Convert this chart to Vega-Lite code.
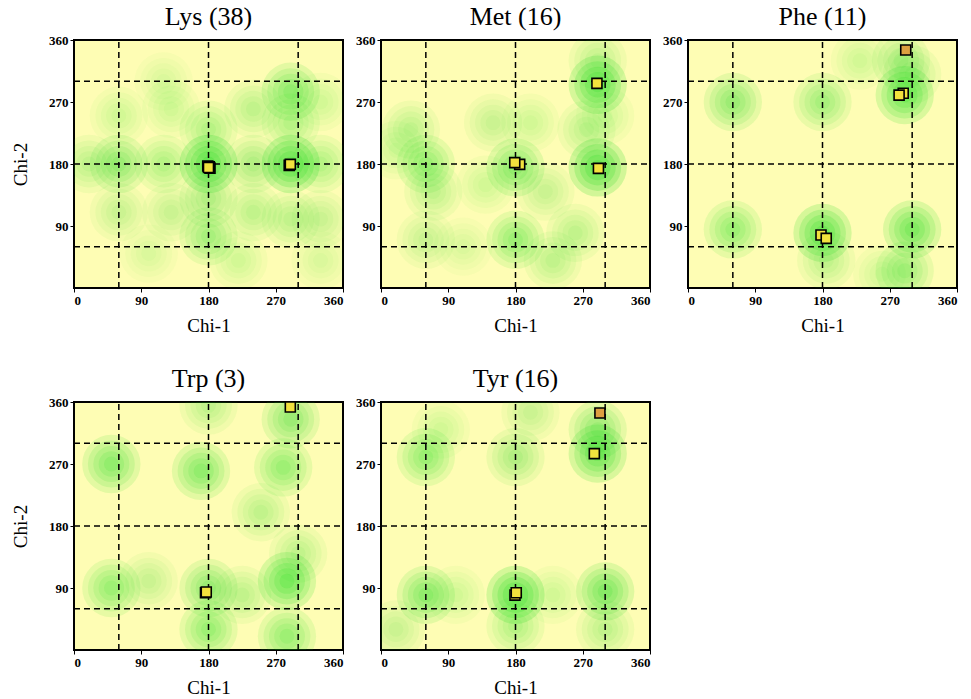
{
  "$schema": "https://vega.github.io/schema/vega-lite/v6.json",
  "autosize": {"type": "pad"},
  "padding": {"left": 10, "top": 3, "right": 5, "bottom": 5},
  "background": "white",
  "datasets": {
    "grid": [{"chi1": 60, "chi2": 60}, {"chi1": 180, "chi2": 180}, {"chi1": 300, "chi2": 300}],
    "blobs": [
      {"res": "Lys", "chi1": 180, "chi2": 180, "density": 1.0},
      {"res": "Lys", "chi1": 290, "chi2": 180, "density": 1.0},
      {"res": "Lys", "chi1": 60, "chi2": 180, "density": 0.55},
      {"res": "Lys", "chi1": 290, "chi2": 285, "density": 0.6},
      {"res": "Lys", "chi1": 290, "chi2": 240, "density": 0.35},
      {"res": "Lys", "chi1": 180, "chi2": 75, "density": 0.45},
      {"res": "Lys", "chi1": 180, "chi2": 130, "density": 0.4},
      {"res": "Lys", "chi1": 180, "chi2": 230, "density": 0.35},
      {"res": "Lys", "chi1": 240, "chi2": 180, "density": 0.4},
      {"res": "Lys", "chi1": 120, "chi2": 180, "density": 0.35},
      {"res": "Lys", "chi1": 240, "chi2": 110, "density": 0.3},
      {"res": "Lys", "chi1": 130, "chi2": 110, "density": 0.25},
      {"res": "Lys", "chi1": 240, "chi2": 260, "density": 0.3},
      {"res": "Lys", "chi1": 130, "chi2": 260, "density": 0.2},
      {"res": "Lys", "chi1": 60, "chi2": 250, "density": 0.2},
      {"res": "Lys", "chi1": 60, "chi2": 110, "density": 0.25},
      {"res": "Lys", "chi1": 330, "chi2": 180, "density": 0.35},
      {"res": "Lys", "chi1": 330, "chi2": 100, "density": 0.25},
      {"res": "Lys", "chi1": 330, "chi2": 270, "density": 0.2},
      {"res": "Lys", "chi1": 20, "chi2": 180, "density": 0.3},
      {"res": "Lys", "chi1": 290, "chi2": 100, "density": 0.3},
      {"res": "Lys", "chi1": 220, "chi2": 40, "density": 0.2},
      {"res": "Lys", "chi1": 100, "chi2": 50, "density": 0.15},
      {"res": "Lys", "chi1": 120, "chi2": 300, "density": 0.15},
      {"res": "Lys", "chi1": 330, "chi2": 40, "density": 0.15},
      {"res": "Met", "chi1": 290, "chi2": 295, "density": 0.9},
      {"res": "Met", "chi1": 290, "chi2": 175, "density": 1.0},
      {"res": "Met", "chi1": 180, "chi2": 175, "density": 0.6},
      {"res": "Met", "chi1": 60, "chi2": 180, "density": 0.5},
      {"res": "Met", "chi1": 40, "chi2": 230, "density": 0.3},
      {"res": "Met", "chi1": 70, "chi2": 140, "density": 0.3},
      {"res": "Met", "chi1": 180, "chi2": 70, "density": 0.5},
      {"res": "Met", "chi1": 230, "chi2": 40, "density": 0.3},
      {"res": "Met", "chi1": 260, "chi2": 80, "density": 0.3},
      {"res": "Met", "chi1": 150, "chi2": 240, "density": 0.25},
      {"res": "Met", "chi1": 200, "chi2": 240, "density": 0.2},
      {"res": "Met", "chi1": 275, "chi2": 230, "density": 0.3},
      {"res": "Met", "chi1": 300, "chi2": 250, "density": 0.2},
      {"res": "Met", "chi1": 60, "chi2": 70, "density": 0.25},
      {"res": "Met", "chi1": 20, "chi2": 200, "density": 0.2},
      {"res": "Met", "chi1": 290, "chi2": 330, "density": 0.3},
      {"res": "Met", "chi1": 220, "chi2": 140, "density": 0.25},
      {"res": "Met", "chi1": 140, "chi2": 150, "density": 0.2},
      {"res": "Met", "chi1": 110, "chi2": 60, "density": 0.15},
      {"res": "Phe", "chi1": 60, "chi2": 270, "density": 0.55},
      {"res": "Phe", "chi1": 180, "chi2": 270, "density": 0.45},
      {"res": "Phe", "chi1": 290, "chi2": 280, "density": 0.8},
      {"res": "Phe", "chi1": 285, "chi2": 330, "density": 0.4},
      {"res": "Phe", "chi1": 300, "chi2": 310, "density": 0.3},
      {"res": "Phe", "chi1": 60, "chi2": 85, "density": 0.5},
      {"res": "Phe", "chi1": 180, "chi2": 80, "density": 0.9},
      {"res": "Phe", "chi1": 300, "chi2": 85, "density": 0.75},
      {"res": "Phe", "chi1": 290, "chi2": 25, "density": 0.45},
      {"res": "Phe", "chi1": 185, "chi2": 40, "density": 0.3},
      {"res": "Phe", "chi1": 230, "chi2": 330, "density": 0.2},
      {"res": "Phe", "chi1": 260, "chi2": 20, "density": 0.2},
      {"res": "Trp", "chi1": 50, "chi2": 270, "density": 0.6},
      {"res": "Trp", "chi1": 170, "chi2": 260, "density": 0.6},
      {"res": "Trp", "chi1": 280, "chi2": 265, "density": 0.5},
      {"res": "Trp", "chi1": 250, "chi2": 200, "density": 0.3},
      {"res": "Trp", "chi1": 290, "chi2": 335, "density": 0.55},
      {"res": "Trp", "chi1": 180, "chi2": 355, "density": 0.3},
      {"res": "Trp", "chi1": 50, "chi2": 90, "density": 0.5},
      {"res": "Trp", "chi1": 100, "chi2": 100, "density": 0.25},
      {"res": "Trp", "chi1": 180, "chi2": 90, "density": 0.55},
      {"res": "Trp", "chi1": 225, "chi2": 80, "density": 0.3},
      {"res": "Trp", "chi1": 285, "chi2": 100, "density": 0.8},
      {"res": "Trp", "chi1": 300, "chi2": 140, "density": 0.3},
      {"res": "Trp", "chi1": 180, "chi2": 30, "density": 0.5},
      {"res": "Trp", "chi1": 285, "chi2": 20, "density": 0.5},
      {"res": "Tyr", "chi1": 60, "chi2": 280, "density": 0.5},
      {"res": "Tyr", "chi1": 180, "chi2": 280, "density": 0.4},
      {"res": "Tyr", "chi1": 290, "chi2": 285, "density": 0.85},
      {"res": "Tyr", "chi1": 290, "chi2": 320, "density": 0.55},
      {"res": "Tyr", "chi1": 200, "chi2": 345, "density": 0.25},
      {"res": "Tyr", "chi1": 60, "chi2": 80, "density": 0.6},
      {"res": "Tyr", "chi1": 180, "chi2": 80, "density": 0.95},
      {"res": "Tyr", "chi1": 300, "chi2": 85, "density": 0.7},
      {"res": "Tyr", "chi1": 180, "chi2": 35, "density": 0.35},
      {"res": "Tyr", "chi1": 20, "chi2": 30, "density": 0.25},
      {"res": "Tyr", "chi1": 300, "chi2": 30, "density": 0.3},
      {"res": "Tyr", "chi1": 100, "chi2": 80, "density": 0.2},
      {"res": "Tyr", "chi1": 230, "chi2": 80, "density": 0.2},
      {"res": "Tyr", "chi1": 80, "chi2": 320, "density": 0.2}
    ],
    "points": [
      {"res": "Lys", "chi1": 179, "chi2": 177, "flag": "normal"},
      {"res": "Lys", "chi1": 182, "chi2": 174, "flag": "normal"},
      {"res": "Lys", "chi1": 181, "chi2": 176, "flag": "normal"},
      {"res": "Lys", "chi1": 180, "chi2": 175, "flag": "normal"},
      {"res": "Lys", "chi1": 288, "chi2": 178, "flag": "normal"},
      {"res": "Lys", "chi1": 289.5, "chi2": 179.5, "flag": "normal"},
      {"res": "Met", "chi1": 289, "chi2": 297, "flag": "normal"},
      {"res": "Met", "chi1": 185.6, "chi2": 179.5, "flag": "normal"},
      {"res": "Met", "chi1": 179, "chi2": 182, "flag": "normal"},
      {"res": "Met", "chi1": 291, "chi2": 173.7, "flag": "normal"},
      {"res": "Phe", "chi1": 291.4, "chi2": 345.5, "flag": "unusual"},
      {"res": "Phe", "chi1": 288, "chi2": 282.6, "flag": "normal"},
      {"res": "Phe", "chi1": 282.5, "chi2": 280, "flag": "normal"},
      {"res": "Phe", "chi1": 178, "chi2": 77, "flag": "normal"},
      {"res": "Phe", "chi1": 185, "chi2": 72, "flag": "normal"},
      {"res": "Trp", "chi1": 289.5, "chi2": 352.8, "flag": "normal"},
      {"res": "Trp", "chi1": 176, "chi2": 83, "flag": "normal"},
      {"res": "Trp", "chi1": 177, "chi2": 84.2, "flag": "normal"},
      {"res": "Tyr", "chi1": 293, "chi2": 344, "flag": "unusual"},
      {"res": "Tyr", "chi1": 285.5, "chi2": 285, "flag": "normal"},
      {"res": "Tyr", "chi1": 179.3, "chi2": 79.7, "flag": "normal"},
      {"res": "Tyr", "chi1": 181, "chi2": 83, "flag": "normal"}
    ]
  },
  "columns": 3,
  "spacing": {"row": 114, "column": 38},
  "bounds": "flush",
  "concat": [
    {
      "title": "Lys (38)", "width": 269, "height": 248,
      "encoding": {
        "x": {"field": "chi1", "type": "quantitative", "scale": {"domain": [0, 360], "nice": false}, "axis": {"values": [0, 90, 180, 270, 360], "title": "Chi-1"}},
        "y": {"field": "chi2", "type": "quantitative", "scale": {"domain": [0, 360], "nice": false}, "axis": {"values": [90, 180, 270, 360], "title": "Chi-2"}}
      },
      "layer": [
        {"data": {"name": "blobs"}, "transform": [{"filter": "datum.res === 'Lys'"}], "mark": {"type": "circle", "size": 3400, "color": "#22dd22", "clip": true}, "encoding": {"opacity": {"field": "density", "type": "quantitative", "scale": {"domain": [0, 1], "range": [0, 0.2]}, "legend": null}}},
        {"data": {"name": "blobs"}, "transform": [{"filter": "datum.res === 'Lys'"}], "mark": {"type": "circle", "size": 2200, "color": "#22dd22", "clip": true}, "encoding": {"opacity": {"field": "density", "type": "quantitative", "scale": {"domain": [0, 1], "range": [0, 0.2]}, "legend": null}}},
        {"data": {"name": "blobs"}, "transform": [{"filter": "datum.res === 'Lys'"}], "mark": {"type": "circle", "size": 1300, "color": "#22dd22", "clip": true}, "encoding": {"opacity": {"field": "density", "type": "quantitative", "scale": {"domain": [0, 1], "range": [0, 0.2]}, "legend": null}}},
        {"data": {"name": "blobs"}, "transform": [{"filter": "datum.res === 'Lys'"}], "mark": {"type": "circle", "size": 650, "color": "#22dd22", "clip": true}, "encoding": {"opacity": {"field": "density", "type": "quantitative", "scale": {"domain": [0, 1], "range": [0, 0.2]}, "legend": null}}},
        {"data": {"name": "blobs"}, "transform": [{"filter": "datum.res === 'Lys'"}], "mark": {"type": "circle", "size": 220, "color": "#22dd22", "clip": true}, "encoding": {"opacity": {"field": "density", "type": "quantitative", "scale": {"domain": [0, 1], "range": [0, 0.2]}, "legend": null}}},
        {"data": {"name": "grid"}, "mark": {"type": "rule", "color": "black", "strokeDash": [6, 4], "strokeWidth": 1.5}, "encoding": {"y": {"datum": 0}, "y2": {"datum": 360}}},
        {"data": {"name": "grid"}, "mark": {"type": "rule", "color": "black", "strokeDash": [6, 4], "strokeWidth": 1.5}, "encoding": {"x": {"datum": 0}, "x2": {"datum": 360}}},
        {"data": {"name": "points"}, "transform": [{"filter": "datum.res === 'Lys'"}], "mark": {"type": "square", "size": 100, "stroke": "black", "strokeWidth": 1.6, "opacity": 1}, "encoding": {"fill": {"field": "flag", "type": "nominal", "scale": {"domain": ["normal", "unusual"], "range": ["#F2E23E", "#DDA040"]}, "legend": null}}}
      ]
    },
    {
      "title": "Met (16)", "width": 269, "height": 248,
      "encoding": {
        "x": {"field": "chi1", "type": "quantitative", "scale": {"domain": [0, 360], "nice": false}, "axis": {"values": [0, 90, 180, 270, 360], "title": "Chi-1"}},
        "y": {"field": "chi2", "type": "quantitative", "scale": {"domain": [0, 360], "nice": false}, "axis": {"values": [90, 180, 270, 360], "title": null}}
      },
      "layer": [
        {"data": {"name": "blobs"}, "transform": [{"filter": "datum.res === 'Met'"}], "mark": {"type": "circle", "size": 3400, "color": "#22dd22", "clip": true}, "encoding": {"opacity": {"field": "density", "type": "quantitative", "scale": {"domain": [0, 1], "range": [0, 0.2]}, "legend": null}}},
        {"data": {"name": "blobs"}, "transform": [{"filter": "datum.res === 'Met'"}], "mark": {"type": "circle", "size": 2200, "color": "#22dd22", "clip": true}, "encoding": {"opacity": {"field": "density", "type": "quantitative", "scale": {"domain": [0, 1], "range": [0, 0.2]}, "legend": null}}},
        {"data": {"name": "blobs"}, "transform": [{"filter": "datum.res === 'Met'"}], "mark": {"type": "circle", "size": 1300, "color": "#22dd22", "clip": true}, "encoding": {"opacity": {"field": "density", "type": "quantitative", "scale": {"domain": [0, 1], "range": [0, 0.2]}, "legend": null}}},
        {"data": {"name": "blobs"}, "transform": [{"filter": "datum.res === 'Met'"}], "mark": {"type": "circle", "size": 650, "color": "#22dd22", "clip": true}, "encoding": {"opacity": {"field": "density", "type": "quantitative", "scale": {"domain": [0, 1], "range": [0, 0.2]}, "legend": null}}},
        {"data": {"name": "blobs"}, "transform": [{"filter": "datum.res === 'Met'"}], "mark": {"type": "circle", "size": 220, "color": "#22dd22", "clip": true}, "encoding": {"opacity": {"field": "density", "type": "quantitative", "scale": {"domain": [0, 1], "range": [0, 0.2]}, "legend": null}}},
        {"data": {"name": "grid"}, "mark": {"type": "rule", "color": "black", "strokeDash": [6, 4], "strokeWidth": 1.5}, "encoding": {"y": {"datum": 0}, "y2": {"datum": 360}}},
        {"data": {"name": "grid"}, "mark": {"type": "rule", "color": "black", "strokeDash": [6, 4], "strokeWidth": 1.5}, "encoding": {"x": {"datum": 0}, "x2": {"datum": 360}}},
        {"data": {"name": "points"}, "transform": [{"filter": "datum.res === 'Met'"}], "mark": {"type": "square", "size": 100, "stroke": "black", "strokeWidth": 1.6, "opacity": 1}, "encoding": {"fill": {"field": "flag", "type": "nominal", "scale": {"domain": ["normal", "unusual"], "range": ["#F2E23E", "#DDA040"]}, "legend": null}}}
      ]
    },
    {
      "title": "Phe (11)", "width": 269, "height": 248,
      "encoding": {
        "x": {"field": "chi1", "type": "quantitative", "scale": {"domain": [0, 360], "nice": false}, "axis": {"values": [0, 90, 180, 270, 360], "title": "Chi-1"}},
        "y": {"field": "chi2", "type": "quantitative", "scale": {"domain": [0, 360], "nice": false}, "axis": {"values": [90, 180, 270, 360], "title": null}}
      },
      "layer": [
        {"data": {"name": "blobs"}, "transform": [{"filter": "datum.res === 'Phe'"}], "mark": {"type": "circle", "size": 3400, "color": "#22dd22", "clip": true}, "encoding": {"opacity": {"field": "density", "type": "quantitative", "scale": {"domain": [0, 1], "range": [0, 0.2]}, "legend": null}}},
        {"data": {"name": "blobs"}, "transform": [{"filter": "datum.res === 'Phe'"}], "mark": {"type": "circle", "size": 2200, "color": "#22dd22", "clip": true}, "encoding": {"opacity": {"field": "density", "type": "quantitative", "scale": {"domain": [0, 1], "range": [0, 0.2]}, "legend": null}}},
        {"data": {"name": "blobs"}, "transform": [{"filter": "datum.res === 'Phe'"}], "mark": {"type": "circle", "size": 1300, "color": "#22dd22", "clip": true}, "encoding": {"opacity": {"field": "density", "type": "quantitative", "scale": {"domain": [0, 1], "range": [0, 0.2]}, "legend": null}}},
        {"data": {"name": "blobs"}, "transform": [{"filter": "datum.res === 'Phe'"}], "mark": {"type": "circle", "size": 650, "color": "#22dd22", "clip": true}, "encoding": {"opacity": {"field": "density", "type": "quantitative", "scale": {"domain": [0, 1], "range": [0, 0.2]}, "legend": null}}},
        {"data": {"name": "blobs"}, "transform": [{"filter": "datum.res === 'Phe'"}], "mark": {"type": "circle", "size": 220, "color": "#22dd22", "clip": true}, "encoding": {"opacity": {"field": "density", "type": "quantitative", "scale": {"domain": [0, 1], "range": [0, 0.2]}, "legend": null}}},
        {"data": {"name": "grid"}, "mark": {"type": "rule", "color": "black", "strokeDash": [6, 4], "strokeWidth": 1.5}, "encoding": {"y": {"datum": 0}, "y2": {"datum": 360}}},
        {"data": {"name": "grid"}, "mark": {"type": "rule", "color": "black", "strokeDash": [6, 4], "strokeWidth": 1.5}, "encoding": {"x": {"datum": 0}, "x2": {"datum": 360}}},
        {"data": {"name": "points"}, "transform": [{"filter": "datum.res === 'Phe'"}], "mark": {"type": "square", "size": 100, "stroke": "black", "strokeWidth": 1.6, "opacity": 1}, "encoding": {"fill": {"field": "flag", "type": "nominal", "scale": {"domain": ["normal", "unusual"], "range": ["#F2E23E", "#DDA040"]}, "legend": null}}}
      ]
    },
    {
      "title": "Trp (3)", "width": 269, "height": 248,
      "encoding": {
        "x": {"field": "chi1", "type": "quantitative", "scale": {"domain": [0, 360], "nice": false}, "axis": {"values": [0, 90, 180, 270, 360], "title": "Chi-1"}},
        "y": {"field": "chi2", "type": "quantitative", "scale": {"domain": [0, 360], "nice": false}, "axis": {"values": [90, 180, 270, 360], "title": "Chi-2"}}
      },
      "layer": [
        {"data": {"name": "blobs"}, "transform": [{"filter": "datum.res === 'Trp'"}], "mark": {"type": "circle", "size": 3400, "color": "#22dd22", "clip": true}, "encoding": {"opacity": {"field": "density", "type": "quantitative", "scale": {"domain": [0, 1], "range": [0, 0.2]}, "legend": null}}},
        {"data": {"name": "blobs"}, "transform": [{"filter": "datum.res === 'Trp'"}], "mark": {"type": "circle", "size": 2200, "color": "#22dd22", "clip": true}, "encoding": {"opacity": {"field": "density", "type": "quantitative", "scale": {"domain": [0, 1], "range": [0, 0.2]}, "legend": null}}},
        {"data": {"name": "blobs"}, "transform": [{"filter": "datum.res === 'Trp'"}], "mark": {"type": "circle", "size": 1300, "color": "#22dd22", "clip": true}, "encoding": {"opacity": {"field": "density", "type": "quantitative", "scale": {"domain": [0, 1], "range": [0, 0.2]}, "legend": null}}},
        {"data": {"name": "blobs"}, "transform": [{"filter": "datum.res === 'Trp'"}], "mark": {"type": "circle", "size": 650, "color": "#22dd22", "clip": true}, "encoding": {"opacity": {"field": "density", "type": "quantitative", "scale": {"domain": [0, 1], "range": [0, 0.2]}, "legend": null}}},
        {"data": {"name": "blobs"}, "transform": [{"filter": "datum.res === 'Trp'"}], "mark": {"type": "circle", "size": 220, "color": "#22dd22", "clip": true}, "encoding": {"opacity": {"field": "density", "type": "quantitative", "scale": {"domain": [0, 1], "range": [0, 0.2]}, "legend": null}}},
        {"data": {"name": "grid"}, "mark": {"type": "rule", "color": "black", "strokeDash": [6, 4], "strokeWidth": 1.5}, "encoding": {"y": {"datum": 0}, "y2": {"datum": 360}}},
        {"data": {"name": "grid"}, "mark": {"type": "rule", "color": "black", "strokeDash": [6, 4], "strokeWidth": 1.5}, "encoding": {"x": {"datum": 0}, "x2": {"datum": 360}}},
        {"data": {"name": "points"}, "transform": [{"filter": "datum.res === 'Trp'"}], "mark": {"type": "square", "size": 100, "stroke": "black", "strokeWidth": 1.6, "opacity": 1}, "encoding": {"fill": {"field": "flag", "type": "nominal", "scale": {"domain": ["normal", "unusual"], "range": ["#F2E23E", "#DDA040"]}, "legend": null}}}
      ]
    },
    {
      "title": "Tyr (16)", "width": 269, "height": 248,
      "encoding": {
        "x": {"field": "chi1", "type": "quantitative", "scale": {"domain": [0, 360], "nice": false}, "axis": {"values": [0, 90, 180, 270, 360], "title": "Chi-1"}},
        "y": {"field": "chi2", "type": "quantitative", "scale": {"domain": [0, 360], "nice": false}, "axis": {"values": [90, 180, 270, 360], "title": null}}
      },
      "layer": [
        {"data": {"name": "blobs"}, "transform": [{"filter": "datum.res === 'Tyr'"}], "mark": {"type": "circle", "size": 3400, "color": "#22dd22", "clip": true}, "encoding": {"opacity": {"field": "density", "type": "quantitative", "scale": {"domain": [0, 1], "range": [0, 0.2]}, "legend": null}}},
        {"data": {"name": "blobs"}, "transform": [{"filter": "datum.res === 'Tyr'"}], "mark": {"type": "circle", "size": 2200, "color": "#22dd22", "clip": true}, "encoding": {"opacity": {"field": "density", "type": "quantitative", "scale": {"domain": [0, 1], "range": [0, 0.2]}, "legend": null}}},
        {"data": {"name": "blobs"}, "transform": [{"filter": "datum.res === 'Tyr'"}], "mark": {"type": "circle", "size": 1300, "color": "#22dd22", "clip": true}, "encoding": {"opacity": {"field": "density", "type": "quantitative", "scale": {"domain": [0, 1], "range": [0, 0.2]}, "legend": null}}},
        {"data": {"name": "blobs"}, "transform": [{"filter": "datum.res === 'Tyr'"}], "mark": {"type": "circle", "size": 650, "color": "#22dd22", "clip": true}, "encoding": {"opacity": {"field": "density", "type": "quantitative", "scale": {"domain": [0, 1], "range": [0, 0.2]}, "legend": null}}},
        {"data": {"name": "blobs"}, "transform": [{"filter": "datum.res === 'Tyr'"}], "mark": {"type": "circle", "size": 220, "color": "#22dd22", "clip": true}, "encoding": {"opacity": {"field": "density", "type": "quantitative", "scale": {"domain": [0, 1], "range": [0, 0.2]}, "legend": null}}},
        {"data": {"name": "grid"}, "mark": {"type": "rule", "color": "black", "strokeDash": [6, 4], "strokeWidth": 1.5}, "encoding": {"y": {"datum": 0}, "y2": {"datum": 360}}},
        {"data": {"name": "grid"}, "mark": {"type": "rule", "color": "black", "strokeDash": [6, 4], "strokeWidth": 1.5}, "encoding": {"x": {"datum": 0}, "x2": {"datum": 360}}},
        {"data": {"name": "points"}, "transform": [{"filter": "datum.res === 'Tyr'"}], "mark": {"type": "square", "size": 100, "stroke": "black", "strokeWidth": 1.6, "opacity": 1}, "encoding": {"fill": {"field": "flag", "type": "nominal", "scale": {"domain": ["normal", "unusual"], "range": ["#F2E23E", "#DDA040"]}, "legend": null}}}
      ]
    }
  ],
  "config": {
    "view": {"fill": "#FEFDB4", "stroke": "black", "strokeWidth": 2},
    "font": "Liberation Serif",
    "title": {"font": "Liberation Serif", "fontSize": 26, "fontWeight": "normal", "color": "black", "offset": 4},
    "axis": {"domain": false, "grid": false, "labelFont": "Liberation Serif", "labelFontSize": 13, "labelFontWeight": "bold", "labelColor": "black", "tickColor": "black", "tickSize": 4, "labelPadding": 2, "titleFont": "Liberation Serif", "titleFontSize": 19, "titleFontWeight": "normal", "titleColor": "black"},
    "axisX": {"titlePadding": 9},
    "axisY": {"titlePadding": 18}
  }
}
